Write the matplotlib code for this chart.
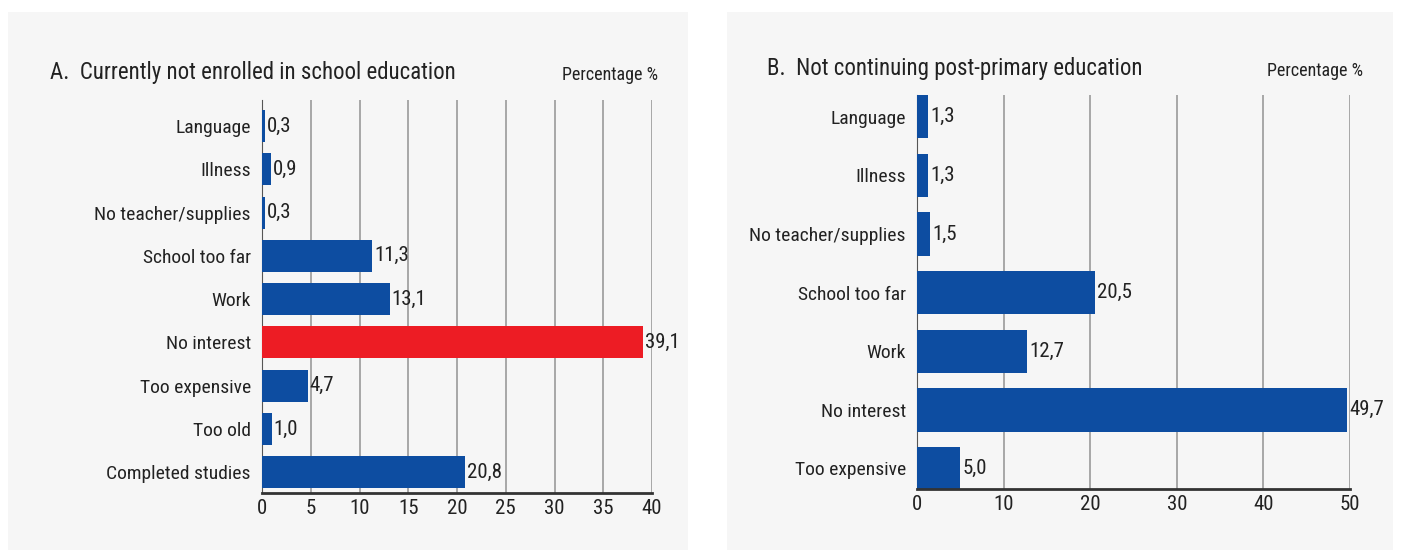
import matplotlib.pyplot as plt
from matplotlib.patches import Rectangle

plt.rcParams.update({'font.family': ['Roboto Condensed', 'DejaVu Sans'], 'figure.dpi': 100})

# panel A: currently not enrolled
cats_a = ['Language', 'Illness', 'No teacher/supplies', 'School too far', 'Work',
          'No interest', 'Too expensive', 'Too old', 'Completed studies']
vals_a = [0.3, 0.9, 0.3, 11.3, 13.1, 39.1, 4.7, 1.0, 20.8]
# panel B: not continuing post-primary
cats_b = ['Language', 'Illness', 'No teacher/supplies', 'School too far', 'Work',
          'No interest', 'Too expensive']
vals_b = [1.3, 1.3, 1.5, 20.5, 12.7, 49.7, 5.0]

blue = '#0d4da1'
red = '#ed1c24'
txt = '#222222'

fig = plt.figure(figsize=(14.03, 5.58))
W, H = 1403, 558
for x0, x1 in [(8, 688), (727, 1393)]:
    fig.patches.append(Rectangle((x0 / W, 1 - 550 / H), (x1 - x0) / W, 538 / H,
                                 transform=fig.transFigure, facecolor='#f6f6f6',
                                 edgecolor='none', zorder=-5))


def panel(rect, cats, vals, colors, xmax, step, ylim, title, tpos, ppos):
    ax = fig.add_axes(rect)
    ax.set_facecolor('none')
    y = list(range(len(cats)))
    ax.barh(y, vals, height=0.74, color=colors, zorder=3)
    for yi, v in zip(y, vals):
        ax.text(v + xmax * 0.005, yi, f'{v:.1f}'.replace('.', ','), va='center',
                ha='left', fontsize=15, color=txt, zorder=4)
    ax.set_yticks(y)
    ax.set_yticklabels(cats, fontsize=14, color=txt)
    ax.set_ylim(*ylim)
    ax.set_xlim(0, xmax)
    ax.set_xticks(range(0, xmax + 1, step))
    ax.tick_params(axis='x', labelsize=15, colors=txt, length=0, pad=4)
    ax.tick_params(axis='y', length=0, pad=8)
    ax.grid(axis='x', color='#9a9a9a', lw=1.2, zorder=1)
    for s in ['top', 'right']:
        ax.spines[s].set_visible(False)
    ax.spines['bottom'].set_color('#333333')
    ax.spines['bottom'].set_linewidth(2)
    ax.spines['left'].set_color('#555555')
    ax.spines['left'].set_linewidth(0.8)
    ax.spines['bottom'].set_zorder(5)
    fig.text(tpos[0] / W, 1 - tpos[1] / H, title, fontsize=16.5, color=txt,
             ha='left', va='center')
    fig.text(ppos[0] / W, 1 - ppos[1] / H, 'Percentage %', fontsize=13, color=txt,
             ha='right', va='center')
    return ax


colors_a = [red if c == 'No interest' else blue for c in cats_a]
panel([262 / W, 1 - 493 / H, (652 - 262) / W, (493 - 100) / H], cats_a, vals_a,
      colors_a, 40, 5, (8.48, -0.6),
      'A.  Currently not enrolled in school education', (50, 72), (658, 75))
panel([917 / W, 1 - 489 / H, (1350 - 917) / W, (489 - 95) / H], cats_b, vals_b,
      blue, 50, 10, (6.35, -0.37),
      'B.  Not continuing post-primary education', (767, 68), (1363, 71))

fig.savefig('out.png', dpi=100)
